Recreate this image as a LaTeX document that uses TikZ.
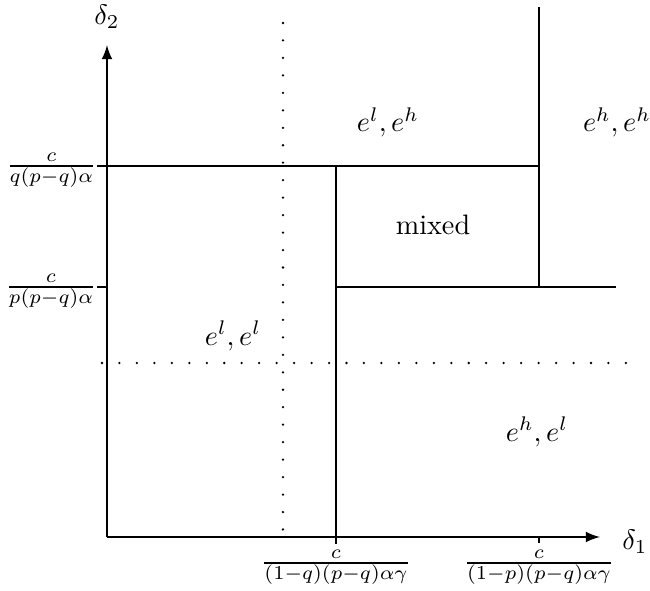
\documentclass[tikz,border=0pt]{standalone}
\usepackage{amsmath, amssymb}
\usepackage{tikz}
\usetikzlibrary{positioning}

\begin{document}
\begin{tikzpicture}[x=0.355pt, y=-0.355pt, >=latex,
    boundary/.style={line width=0.75pt},
    dotline/.style={line width=0.9pt, line cap=round, dash pattern=on 0pt off 6.2pt},
    ticklabel/.style={inner sep=0pt, yshift=-2.5pt}]
    \useasboundingbox (0,0) rectangle (650,591);

    % Axes
    \coordinate (o) at (107,537);
    \coordinate (xend) at (600,537);
    \coordinate (yend) at (107,45);
    \draw[boundary, ->] (o) -- (xend);
    \draw[boundary, ->] (o) -- (yend);
    \node (d1) at (635,542) {$\delta_1$};
    \node (d2) at (107,17) {$\delta_2$};

    % Thresholds on the delta_2 axis
    \coordinate (yhi) at (97,166);
    \coordinate (ylo) at (97,287);
    \coordinate (yloaxis) at (107,287);
    \node[ticklabel, anchor=base east] (qlab) at (yhi) {$\frac{c}{q(p-q)\alpha}$};
    \node[ticklabel, anchor=base east] (plab) at (ylo) {$\frac{c}{p(p-q)\alpha}$};

    % Thresholds on the delta_1 axis
    \coordinate (xlo) at (336,544);
    \coordinate (xhi) at (539,543);
    \coordinate (xhiaxis) at (539,537);
    \node[ticklabel, anchor=base] (qxlab) at (336,563) {$\frac{c}{(1-q)(p-q)\alpha\gamma}$};
    \node[ticklabel, anchor=base] (pxlab) at (539,563) {$\frac{c}{(1-p)(p-q)\alpha\gamma}$};

    % Region boundaries
    \coordinate (corner) at (336,166);
    \coordinate (topright) at (539,166);
    \coordinate (top) at (539,7);
    \coordinate (mid) at (336,287);
    \coordinate (midright) at (539,287);
    \coordinate (right) at (616,287);
    \draw[boundary] (yhi) -- (topright);
    \draw[boundary] (ylo) -- (yloaxis);
    \draw[boundary] (corner) -- (xlo);
    \draw[boundary] (xhiaxis) -- (xhi);
    \draw[boundary] (top) -- (midright);
    \draw[boundary] (mid) -- (right);

    % Dotted guide lines
    \coordinate (vtop) at (283,23);
    \coordinate (vbot) at (283,545);
    \coordinate (hleft) at (102,363);
    \coordinate (hright) at (628,363);
    \draw[dotline] (vtop) -- (vbot);
    \draw[dotline] (hleft) -- (hright);

    % Region labels
    \node (lh) at (388,122) {$e^l, e^h$};
    \node (hh) at (617,122) {$e^h, e^h$};
    \node (mx) at (433,225) {mixed};
    \node (ll) at (233,336) {$e^l, e^l$};
    \node (hl) at (537,432) {$e^h, e^l$};

\end{tikzpicture}
\end{document}
